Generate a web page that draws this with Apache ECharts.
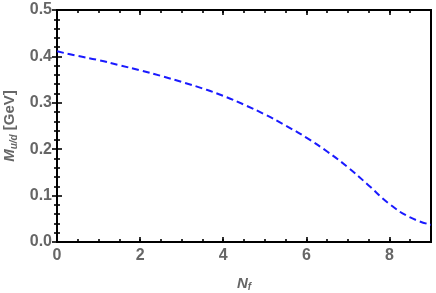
<!DOCTYPE html>
<html><head><meta charset="utf-8">
<script src="https://cdn.jsdelivr.net/npm/echarts@6/dist/echarts.min.js"></script>
<style>html,body{margin:0;padding:0;background:#fff}#c{width:436px;height:293px}</style>
</head><body><div id="c"></div>
<script>
const nf = [0, 0.5, 1, 1.5, 2, 2.5, 3, 3.5, 4, 4.5, 5, 5.5, 6, 6.5, 7, 7.5, 8, 8.5, 9];
const mass = [0.411, 0.401, 0.392, 0.381, 0.370, 0.358, 0.345, 0.331, 0.315, 0.296, 0.275, 0.251, 0.225, 0.195, 0.161, 0.122, 0.082, 0.053, 0.037];
const xTicks = [0, 2, 4, 6, 8];
const yTicks = [0.0, 0.1, 0.2, 0.3, 0.4, 0.5];

const labelFont = {fontFamily: 'Liberation Sans', fontWeight: 'bold', fontSize: 16, color: '#666'};
const chart = echarts.init(document.getElementById('c'));
function xAx(pos, major, labels, name) {
  return {
    type: 'value', min: 0, max: 9, interval: major ? 2 : 0.5, position: pos, offset: 0,
    axisLine: {show: false}, splitLine: {show: false},
    axisTick: {show: true, inside: true, length: major ? 5 : 3, lineStyle: {color: '#000', width: 1.6}},
    axisLabel: labels ? Object.assign({show: true, margin: 6, formatter: v => xTicks.includes(v) ? String(v) : ''}, labelFont) : {show: false},
    name: name || '', nameLocation: 'middle', nameGap: 33,
    nameTextStyle: {rich: {
      a: {fontFamily: 'Liberation Sans', fontWeight: 'bold', fontStyle: 'italic', fontSize: 15, color: '#666'},
      s: {fontFamily: 'Liberation Sans', fontWeight: 'bold', fontStyle: 'italic', fontSize: 10, color: '#666', padding: [7, 0, 0, 0]}
    }}
  };
}
function yAx(pos, labels, name) {
  return {
    type: 'value', min: 0, max: 0.5, interval: 0.1, position: pos, offset: 0,
    axisLine: {show: false}, splitLine: {show: false},
    axisTick: {show: true, inside: true, length: 5, lineStyle: {color: '#000', width: 1.6}},
    minorTick: {show: true, splitNumber: 5, length: 3, lineStyle: {color: '#000', width: 1.6}},
    axisLabel: labels ? Object.assign({show: true, margin: 5, formatter: v => {const t = yTicks.find(k => Math.abs(k - v) < 1e-9); return t === undefined ? '' : t.toFixed(1);}}, labelFont) : {show: false},
    name: name || '', nameLocation: 'middle', nameGap: 38, nameRotate: 90,
    nameTextStyle: {rich: {
      a: {fontFamily: 'Liberation Sans', fontWeight: 'bold', fontStyle: 'italic', fontSize: 15, color: '#666'},
      s: {fontFamily: 'Liberation Sans', fontWeight: 'bold', fontStyle: 'italic', fontSize: 10, color: '#666', padding: [7, 0, 0, 0]},
      b: {fontFamily: 'Liberation Sans', fontWeight: 'bold', fontSize: 15, color: '#666'}
    }}
  };
}
chart.setOption({
  animation: false,
  grid: {left: 57, right: 5, top: 10, bottom: 51, outerBoundsMode: 'none', containLabel: false,
         show: true, borderColor: '#000', borderWidth: 2, backgroundColor: 'transparent'},
  xAxis: [
    xAx('bottom', true, true, '{a|N}{s|f}'),
    xAx('bottom', false, false),
    xAx('top', true, false),
    xAx('top', false, false)
  ],
  yAxis: [
    yAx('left', true, '{a|M}{s|u/d}{b| [GeV]}'),
    yAx('right', false)
  ],
  series: [{
    type: 'line', xAxisIndex: 0, yAxisIndex: 0, smooth: true, symbol: 'none',
    data: nf.map((x, i) => [x, mass[i]]),
    lineStyle: {color: '#1a1aff', width: 2, type: [7, 4]}
  }]
});
</script></body></html>
